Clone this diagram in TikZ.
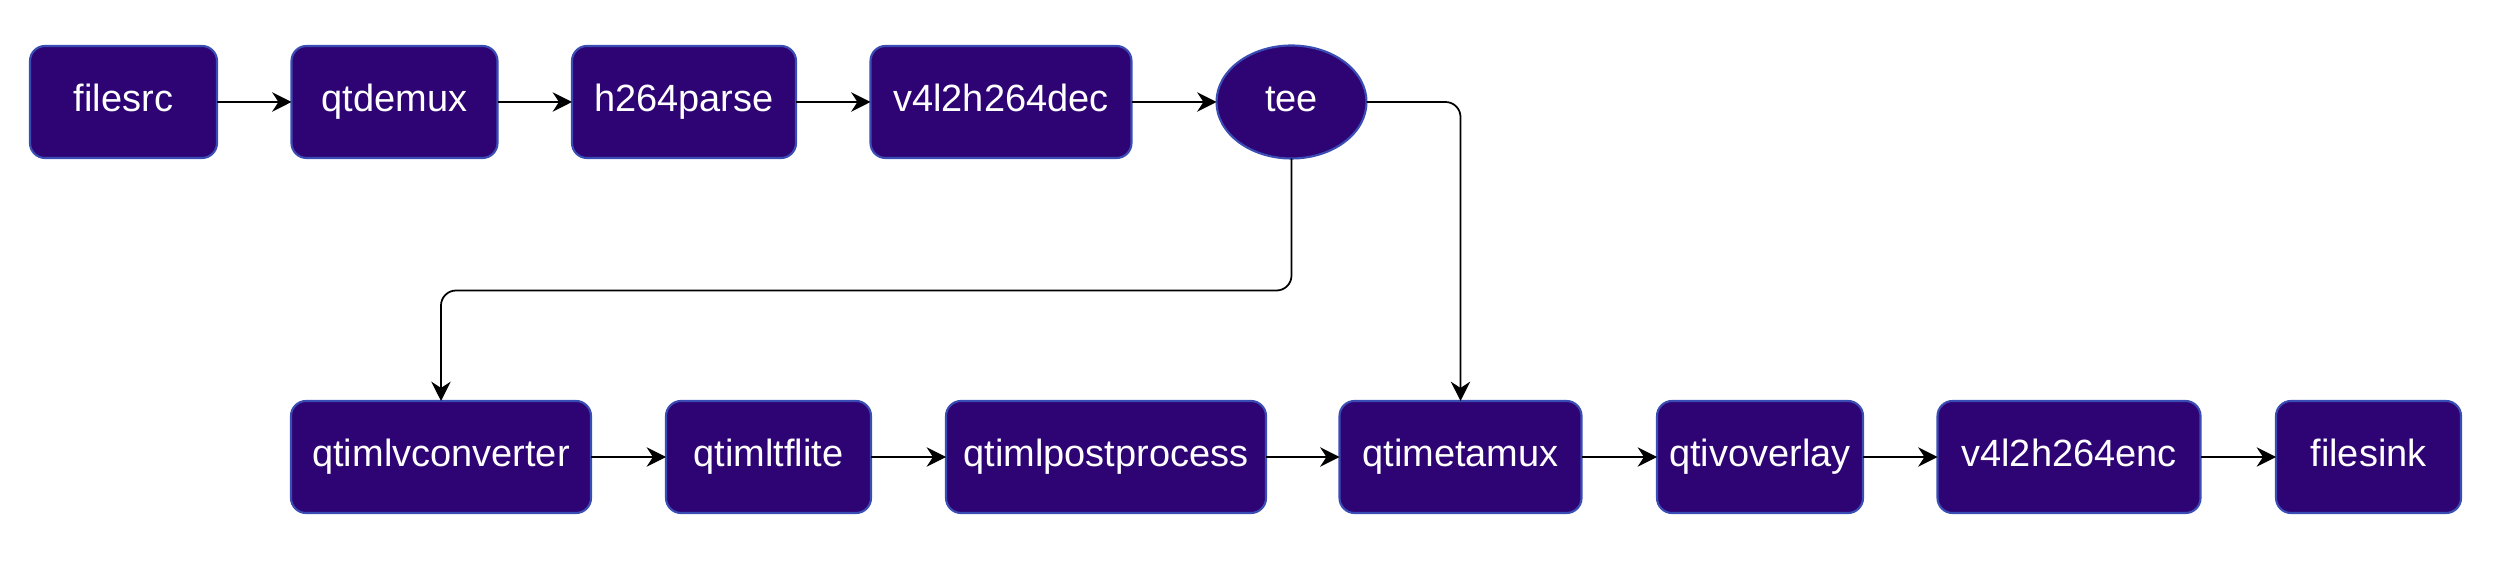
\documentclass[tikz,border=0pt]{standalone}
\usepackage{fontspec}
\setmainfont{Liberation Sans}
\usepackage{tikz}
\usetikzlibrary{positioning, arrows.meta, shapes.geometric}
\definecolor{elemfill}{HTML}{2E0475}
\definecolor{elemdraw}{HTML}{3A4DB5}

\begin{document}
\begin{tikzpicture}[
    block/.style={draw=elemdraw, fill=elemfill, rectangle, rounded corners=0.15cm,
                  minimum height=1.12cm, align=center, text=white, outer sep=0pt,
                  text height=0.72em, text depth=0.2em,
                  font=\fontsize{10.8}{12}\selectfont, line width=0.6pt},
    split/.style={draw=elemdraw, fill=elemfill, ellipse, minimum width=1.5cm,
                  minimum height=1.13cm, text=white, outer sep=0pt,
                  text height=0.72em, text depth=0.2em,
                  font=\fontsize{10.8}{12}\selectfont, line width=0.6pt},
    arrow/.style={-{Stealth[length=5.5pt, width=5.5pt]}, line width=0.5pt, rounded corners=0.15cm}
]
\useasboundingbox (0,0) rectangle (24.97,5.66);

\node[block, minimum width=1.87cm] (filesrc) at (1.235,4.64) {filesrc};
\node[block, minimum width=2.06cm, right=0.745cm of filesrc] (qtdemux) {qtdemux};
\node[block, minimum width=2.24cm, right=0.745cm of qtdemux] (parse) {h264parse};
\node[block, minimum width=2.61cm, right=0.745cm of parse] (dec) {v4l2h264dec};
\node[split, right=0.85cm of dec] (tee) {tee};

\node[block, minimum width=3.0cm] (conv) at (4.41,1.09) {qtimlvconverter};
\node[block, minimum width=2.05cm, right=0.75cm of conv] (tflite) {qtimltflite};
\node[block, minimum width=3.2cm, right=0.75cm of tflite] (post) {qtimlpostprocess};
\node[block, minimum width=2.42cm, right=0.735cm of post] (metamux) {qtimetamux};
\node[block, minimum width=2.06cm, right=0.755cm of metamux] (overlay) {qtivoverlay};
\node[block, minimum width=2.63cm, right=0.745cm of overlay] (enc) {v4l2h264enc};
\node[block, minimum width=1.85cm, right=0.755cm of enc] (filesink) {filesink};

\draw[arrow] (filesrc) -- (qtdemux);
\draw[arrow] (qtdemux) -- (parse);
\draw[arrow] (parse) -- (dec);
\draw[arrow] (dec) -- (tee);

% the two branches out of tee
\draw[arrow] (tee.south) -- ++(0,-1.32) -| (conv.north);
\draw[arrow] (tee.east) -| (metamux.north);

\draw[arrow] (conv) -- (tflite);
\draw[arrow] (tflite) -- (post);
\draw[arrow] (post) -- (metamux);
\draw[arrow] (metamux) -- (overlay);
\draw[arrow] (overlay) -- (enc);
\draw[arrow] (enc) -- (filesink);

\end{tikzpicture}
\end{document}
